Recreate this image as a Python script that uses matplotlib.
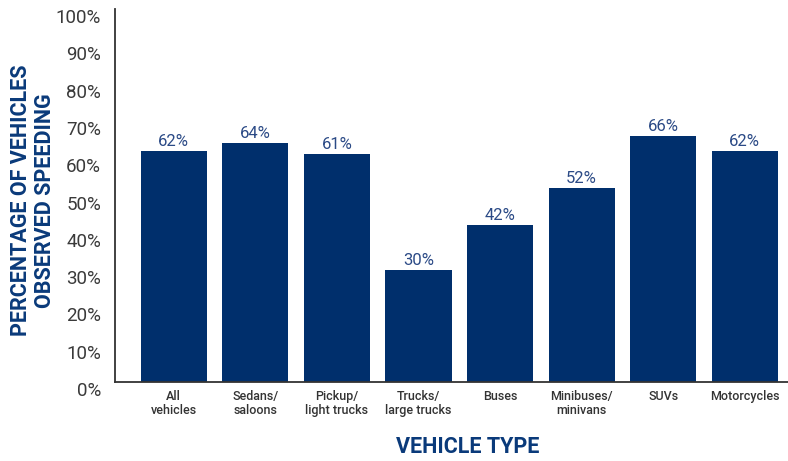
import numpy as np
import matplotlib.pyplot as plt
import matplotlib.transforms as mtransforms

categories = ['All\nvehicles', 'Sedans/\nsaloons', 'Pickup/\nlight trucks', 'Trucks/\nlarge trucks',
              'Buses', 'Minibuses/\nminivans', 'SUVs', 'Motorcycles']
values = [62, 64, 61, 30, 42, 52, 66, 62]
yticks = list(range(0, 101, 10))

navy = '#002f6c'
label_blue = '#2b4a86'
title_blue = '#0a3a7a'

fig = plt.figure(figsize=(7.88, 4.61), dpi=100)
ax = fig.add_axes([0.146, 0.1714, 0.854, 0.809])

x = np.arange(len(values))
ax.bar(x, values, width=0.81, color=navy)
for xi, v in zip(x, values):
    ax.text(xi, v + 0.6, f'{v}%', ha='center', va='bottom', fontsize=12,
            color=label_blue, family='Roboto')

ax.set_xlim(-0.72, 7.53)
ax.set_ylim(0, 100)
ax.set_yticks(yticks)
ax.set_yticklabels([f'{t}%' for t in yticks], fontsize=13.5, color='#3a3a3a',
                   family='Roboto')
ax.set_xticks(x)
ax.set_xticklabels(categories, fontsize=9, color='#333333', family='Roboto',
                   fontweight='medium', linespacing=1.05)
ax.tick_params(axis='y', length=0, pad=10)
ax.tick_params(axis='x', length=0, pad=6)

offset = mtransforms.ScaledTranslation(0, -7 / 100, fig.dpi_scale_trans)
for lab in ax.get_yticklabels():
    lab.set_transform(lab.get_transform() + offset)

for s in ['top', 'right']:
    ax.spines[s].set_visible(False)
ax.spines['left'].set_linewidth(1.3)
ax.spines['bottom'].set_linewidth(1.3)
ax.spines['left'].set_color('#333333')
ax.spines['bottom'].set_color('#333333')

fig.text(0.042, 0.565, 'PERCENTAGE OF VEHICLES\nOBSERVED SPEEDING', rotation=90,
         ha='center', va='center', fontsize=15.5, fontweight='bold', color=title_blue,
         family='Roboto', linespacing=1.12)
fig.text(0.593, 0.03, 'VEHICLE TYPE', ha='center', va='center', fontsize=15.5,
         fontweight='bold', color=title_blue, family='Roboto')

plt.savefig('out.png', dpi=100)
